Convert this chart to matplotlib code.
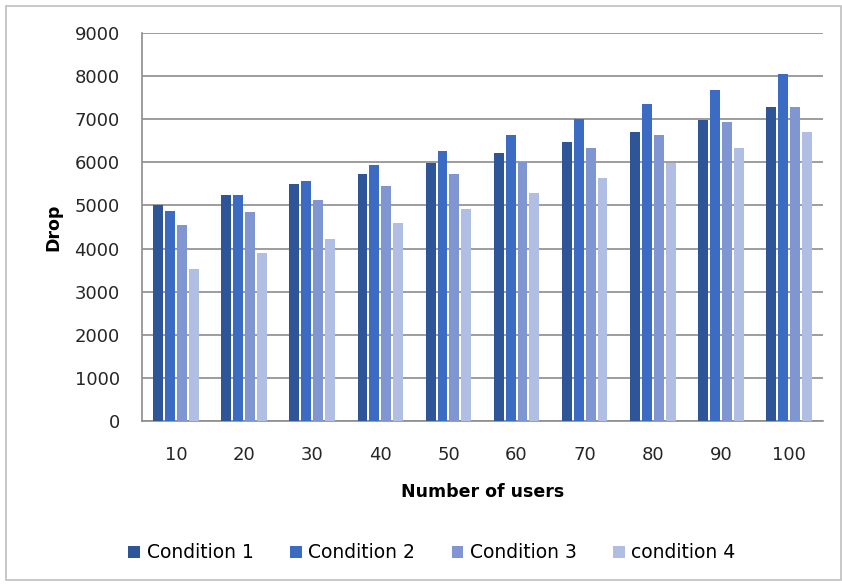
import matplotlib
matplotlib.use("Agg")
import matplotlib.pyplot as plt
import numpy as np
from matplotlib.patches import Rectangle

categories = ["10", "20", "30", "40", "50", "60", "70", "80", "90", "100"]
cond1 = [5000, 5245, 5490, 5735, 5990, 6215, 6470, 6710, 6990, 7275]
cond2 = [4880, 5245, 5575, 5935, 6260, 6630, 7000, 7350, 7680, 8055]
cond3 = [4550, 4840, 5120, 5450, 5735, 6000, 6340, 6630, 6935, 7275]
cond4 = [3530, 3900, 4225, 4595, 4910, 5300, 5645, 5980, 6340, 6700]
series_names = ["Condition 1", "Condition 2", "Condition 3", "condition 4"]
colors = ["#2E5597", "#3B6BC2", "#7F96D3", "#B0BEE3"]
yticks = [0, 1000, 2000, 3000, 4000, 5000, 6000, 7000, 8000, 9000]

plt.rcParams['font.family'] = ['DejaVu Sans']
fs = 13
fig = plt.figure(figsize=(8.42, 5.86), dpi=100)
fig.patches.append(Rectangle((6/842, 1-580/586), 835/842, 574/586,
                             transform=fig.transFigure, fill=False,
                             edgecolor="#BFBFBF", linewidth=1.2))
ax = fig.add_axes([142/842, 1-421/586, (823-142)/842, (421-33)/586])

x = np.arange(len(categories))
w = 0.145
step = 0.175
data = [cond1, cond2, cond3, cond4]
for i, (vals, name, c) in enumerate(zip(data, series_names, colors)):
    ax.bar(x + (i - 1.5) * step, vals, width=w, color=c, label=name, zorder=3)

ax.set_xlim(-0.5, len(categories) - 0.5)
ax.set_ylim(0, 9000)
ax.set_yticks(yticks)
ax.set_yticklabels([str(v) for v in yticks], fontsize=fs, color="#262626")
ax.set_xticks(x)
ax.set_xticklabels(categories, fontsize=fs, color="#262626")
ax.tick_params(axis='y', length=0, pad=16)
ax.tick_params(axis='x', length=0, pad=18)
ax.grid(axis='y', color="#8C8C8C", linewidth=1.2, zorder=0)
for s in ["top", "right"]:
    ax.spines[s].set_visible(False)
ax.spines["left"].set_color("#8C8C8C")
ax.spines["bottom"].set_color("#8C8C8C")
ax.spines["left"].set_linewidth(1.2)
ax.spines["bottom"].set_linewidth(1.2)
ax.set_ylabel("Drop", fontsize=12.5, fontweight="bold", labelpad=9)
ax.set_xlabel("Number of users", fontsize=12.5, fontweight="bold", labelpad=14)

fig.legend(loc="center", bbox_to_anchor=(432/842, 1-553/586), ncol=4,
           frameon=False, fontsize=13.5, handlelength=0.62, handleheight=0.62,
           handletextpad=0.35, columnspacing=1.95)

fig.savefig("out.png", dpi=100)
